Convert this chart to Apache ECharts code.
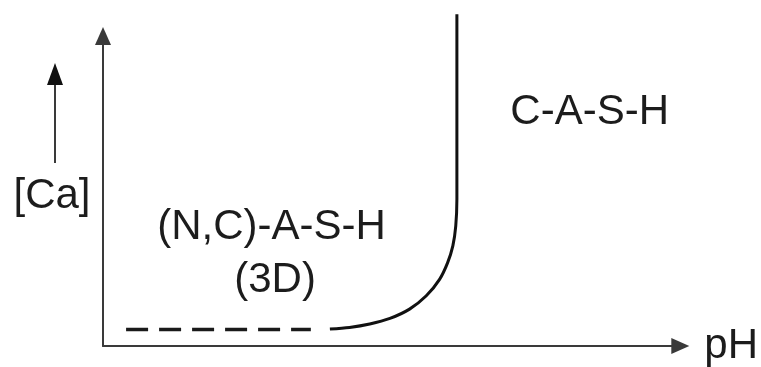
<!DOCTYPE html>
<html>
<head>
<meta charset="utf-8">
<script src="https://cdn.jsdelivr.net/npm/echarts@6/dist/echarts.min.js"></script>
<style>
  html, body { margin: 0; padding: 0; background: #fff; }
  #chart { width: 761px; height: 367px; }
</style>
</head>
<body>
<div id="chart"></div>
<script>
// Schematic [Ca] vs pH phase diagram (arbitrary units)
const axisNames = { x: 'pH', y: '[Ca]' };

// Low-Ca plateau (dashed) for the 3D (N,C)-A-S-H region
const plateauX = [4.0, 36.0];
const plateauY = [5.3, 5.3];

// Boundary curve rising steeply into the C-A-S-H field
const boundaryX = [39.3, 42.7, 46.2, 49.7, 53.1, 56.0, 58.3, 59.7, 60.6, 61.1, 61.3, 61.3];
const boundaryY = [5.5, 6.0, 7.1, 8.9, 11.9, 16.2, 21.5, 26.9, 32.3, 38.7, 47.3, 107.0];

// Region labels
const regionNames = ['(N,C)-A-S-H', '(3D)', 'C-A-S-H'];
const regionX = [29.2, 29.8, 84.3];
const regionY = [38.3, 21.2, 75.2];

const zip = (xs, ys) => xs.map((x, i) => [x, ys[i]]);

const FONT = 'Liberation Sans, Arial, sans-serif';
const INK = '#1c1c1c';
const AXIS = '#3a3a3a';

const chart = echarts.init(document.getElementById('chart'), null, { renderer: 'canvas' });

chart.setOption({
  animation: false,
  backgroundColor: '#ffffff',
  grid: { left: 103, right: 80, top: 36, bottom: 20, containLabel: false },
  xAxis: {
    type: 'value', min: 0, max: 100,
    name: axisNames.x, nameLocation: 'end', nameGap: 24,
    nameTextStyle: { fontFamily: FONT, fontSize: 42, color: INK, verticalAlign: 'middle', padding: [8, 0, 0, 0] },
    axisLine: { show: true, lineStyle: { color: AXIS, width: 2 }, symbol: ['none', 'triangle'], symbolSize: [16, 18] },
    axisTick: { show: false }, axisLabel: { show: false }, splitLine: { show: false }
  },
  yAxis: {
    type: 'value', min: 0, max: 100,
    axisLine: { show: true, lineStyle: { color: AXIS, width: 2 }, symbol: ['none', 'triangle'], symbolSize: [16, 18] },
    axisTick: { show: false }, axisLabel: { show: false }, splitLine: { show: false }
  },
  graphic: [
    // y-axis quantity with its own "increasing" arrow
    { type: 'line', shape: { x1: 55, y1: 163, x2: 55, y2: 80 }, style: { stroke: AXIS, lineWidth: 2 } },
    { type: 'polygon', shape: { points: [[55, 63], [47, 85], [63, 85]] }, style: { fill: '#111' } },
    { type: 'text', x: 52, y: 196, style: { text: axisNames.y, font: '42px ' + FONT, fill: INK, align: 'center', verticalAlign: 'middle' } }
  ],
  series: [
    {
      type: 'line', data: zip(plateauX, plateauY), symbol: 'none', clip: false,
      lineStyle: { color: '#1a1a1a', width: 3.5, type: [22, 11] }
    },
    {
      type: 'line', data: zip(boundaryX, boundaryY), symbol: 'none', clip: false, smooth: 0.3,
      lineStyle: { color: '#111', width: 3 }
    },
    {
      type: 'scatter', symbolSize: 0, clip: false,
      itemStyle: { opacity: 1 },
      data: regionNames.map((n, i) => ({ name: n, value: [regionX[i], regionY[i]] })),
      label: {
        show: true, position: 'inside', formatter: p => p.name,
        fontFamily: FONT, fontSize: 42, color: INK
      }
    }
  ]
});
</script>
</body>
</html>
